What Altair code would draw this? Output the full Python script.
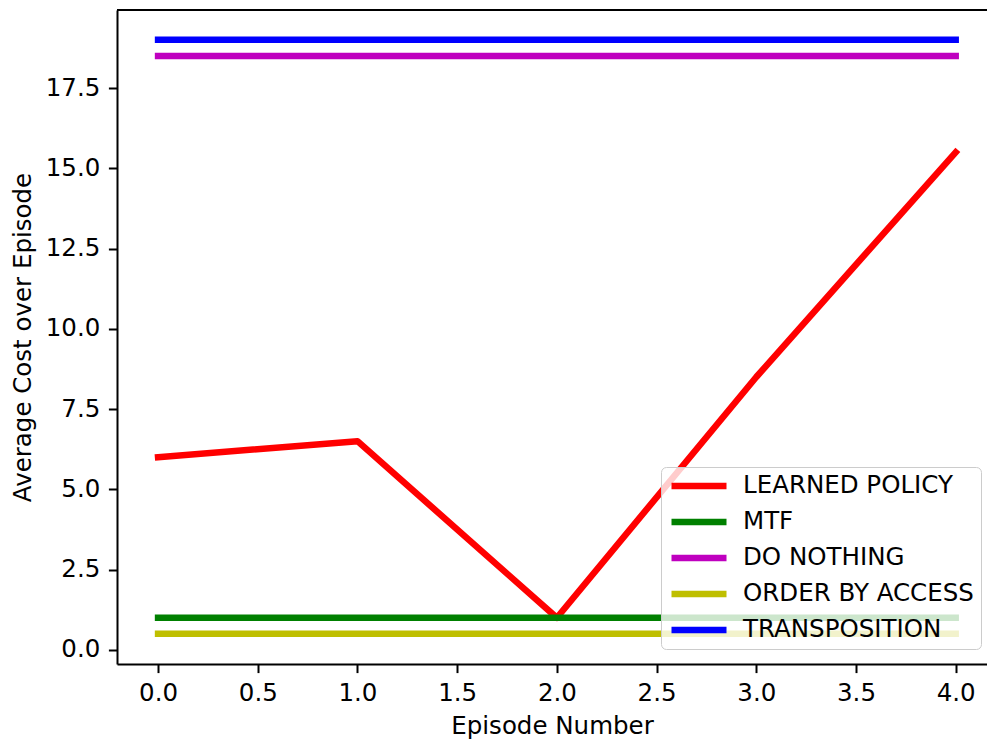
import altair as alt
import pandas as pd

# Episode indices and the average cost per episode for each policy
episodes = [0, 1, 2, 3, 4]
policies = ["LEARNED POLICY", "MTF", "DO NOTHING", "ORDER BY ACCESS", "TRANSPOSITION"]
learned_policy = [6.0, 6.5, 1.0, 8.5, 15.5]
mtf = [1.0, 1.0, 1.0, 1.0, 1.0]
do_nothing = [18.5, 18.5, 18.5, 18.5, 18.5]
order_by_access = [0.5, 0.5, 0.5, 0.5, 0.5]
transposition = [19.0, 19.0, 19.0, 19.0, 19.0]
colors = ["#ff0000", "#008000", "#bf00bf", "#bfbf00", "#0000ff"]

x_ticks = [0.0, 0.5, 1.0, 1.5, 2.0, 2.5, 3.0, 3.5, 4.0]
y_ticks = [0.0, 2.5, 5.0, 7.5, 10.0, 12.5, 15.0, 17.5]

series = [learned_policy, mtf, do_nothing, order_by_access, transposition]
rows = []
for name, values in zip(policies, series):
    for ep, v in zip(episodes, values):
        rows.append({"episode": ep, "cost": v, "policy": name})
df = pd.DataFrame(rows)

W, H = 870, 654
FONT = "DejaVu Sans"

lines = alt.Chart(df).mark_line(
    strokeWidth=6.5, strokeCap="square", strokeJoin="round"
).encode(
    x=alt.X(
        "episode:Q",
        title="Episode Number",
        scale=alt.Scale(domain=[-0.206, 4.157], nice=False, zero=False),
        axis=alt.Axis(values=x_ticks, format=".1f", titlePadding=10),
    ),
    y=alt.Y(
        "cost:Q",
        title="Average Cost over Episode",
        scale=alt.Scale(domain=[-0.44, 19.93], nice=False, zero=False),
        axis=alt.Axis(values=y_ticks, format=".1f", titlePadding=10),
    ),
    color=alt.Color(
        "policy:N",
        scale=alt.Scale(domain=policies, range=colors),
        sort=policies,
        legend=alt.Legend(
            title=None,
            orient="none",
            legendX=544,
            legendY=457,
            symbolType="stroke",
            symbolSize=3025,
            symbolStrokeWidth=6.5,
            clipHeight=24,
            rowPadding=11,
            labelOffset=13,
            labelFont=FONT,
            labelFontSize=24.5,
            labelColor="black",
            labelLimit=400,
            padding=7,
            fillColor="rgba(255,255,255,0.8)",
            strokeColor="#cccccc",
            cornerRadius=5,
        ),
    ),
    order=alt.Order("episode:Q"),
)

# top spine of the frame
top_spine = alt.Chart(alt.Data(values=[{}])).mark_rule(
    color="black", strokeWidth=2
).encode(x=alt.value(0), x2=alt.value(W), y=alt.value(0))

chart = alt.layer(lines, top_spine).properties(
    width=W,
    height=H,
    autosize=alt.AutoSizeParams(type="none"),
    padding={"left": 117, "top": 10, "right": 0, "bottom": 80},
).configure(
    background="white"
).configure_view(
    stroke=None
).configure_axis(
    grid=False,
    domainColor="black",
    domainWidth=2,
    tickColor="black",
    tickWidth=2,
    tickSize=8.6,
    labelPadding=8.6,
    labelFont=FONT,
    labelFontSize=24.5,
    labelColor="black",
    titleFont=FONT,
    titleFontSize=24.5,
    titleFontWeight="normal",
    titleColor="black",
)

chart.save("out.html", embed_options={"renderer": "svg", "actions": False})
